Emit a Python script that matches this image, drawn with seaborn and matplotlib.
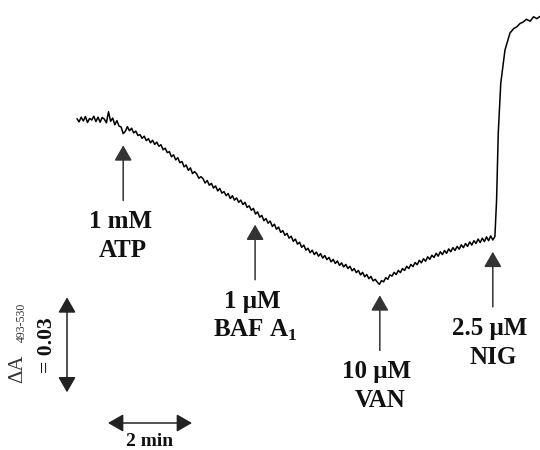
import numpy as np
import pandas as pd
import matplotlib
matplotlib.use("Agg")
import matplotlib.pyplot as plt
import seaborn as sns

# absorbance change (493-530 nm) in mA units, one sample every 0.05 min
trace_mA = [
    0.4, -0.6, 0.9, -0.3, 1.1, -0.8, 0.5, 0.0, 1.2, -0.5,
    0.9, -0.7, 0.8, 0.3, -0.9, 2.6, -0.4, 0.6, -1.5, -0.2,
    -1.9, -2.2, -4.3, -3.6, -2.1, -3.4, -2.6, -4.1, -3.5, -4.9,
    -4.6, -5.8, -5.1, -6.5, -5.9, -7.2, -6.4, -7.7, -7.0, -8.3,
    -7.8, -9.4, -8.9, -10.3, -10.0, -11.6, -11.0, -12.6, -11.9, -13.5,
    -13.1, -14.8, -14.2, -15.9, -15.1, -16.9, -16.3, -17.0, -18.4, -17.9,
    -18.5, -19.9, -19.1, -20.6, -20.0, -21.5, -20.8, -22.4, -21.6, -23.1,
    -22.6, -23.9, -23.2, -24.8, -23.9, -25.3, -24.6, -26.0, -25.3, -26.7,
    -26.0, -27.6, -27.1, -28.5, -27.9, -29.7, -29.0, -30.7, -30.1, -31.8,
    -31.1, -32.6, -31.9, -33.6, -32.9, -34.5, -33.8, -35.5, -34.9, -36.4,
    -35.8, -37.3, -36.7, -38.3, -37.6, -39.2, -38.6, -40.2, -39.5, -41.1,
    -40.5, -41.9, -41.1, -42.5, -41.7, -43.0, -42.2, -43.6, -42.8, -44.1,
    -43.4, -44.8, -44.0, -45.3, -44.5, -45.9, -45.1, -46.4, -45.6, -46.9,
    -46.2, -47.6, -46.9, -48.2, -47.5, -48.9, -48.1, -49.5, -48.8, -50.1,
    -49.4, -50.8, -50.3, -51.2, -51.9, -50.7, -51.1, -49.8, -50.3, -48.9,
    -49.3, -48.1, -48.8, -47.5, -48.2, -46.9, -47.5, -46.2, -46.9, -45.6,
    -46.3, -45.0, -45.7, -44.3, -45.1, -43.8, -44.6, -43.2, -44.0, -42.7,
    -43.4, -42.1, -43.0, -41.6, -42.5, -41.2, -42.1, -40.7, -41.6, -40.3,
    -41.2, -39.9, -40.8, -39.4, -40.3, -39.0, -39.9, -38.5, -39.5, -38.1,
    -39.0, -37.6, -38.7, -37.3, -38.4, -36.9, -38.1, -36.6, -37.9, -36.8,
]
# nigericin step, sampled finer
nig_time = [9.99, 10.03, 10.09, 10.19, 10.31, 10.40, 10.47, 10.55, 10.62,
            10.7, 10.79, 10.87, 10.95, 11.02]
nig_mA = [-25.3, -4.1, 11.7, 22.1, 27.5, 28.9, 29.4, 30.5, 30.9,
          31.8, 31.2, 32.6, 32.0, 32.7]

# additions
add_time = [1.1, 4.24, 7.21, 9.9]
add_dose = ["1 mM", "1 μM", "10 μM", "2.5 μM"]
add_name = ["ATP", r"BAF A$_{\mathregular{1}}$", "VAN", "NIG"]

# scale bars
bar_mA = 30
bar_label = "= 0.03"
bar_min = 2

sns.set_style("white")
plt.rcParams["font.family"] = ["Liberation Serif", "DejaVu Serif"]
plt.rcParams["mathtext.fontset"] = "custom"
plt.rcParams["mathtext.rm"] = "Liberation Serif:bold"

reg_time = np.round(np.arange(len(trace_mA)) * 0.05, 2)
df = pd.DataFrame({
    "time": np.concatenate([reg_time, nig_time]),
    "dA": np.concatenate([trace_mA, nig_mA]),
})

fig = plt.figure(figsize=(5.4, 4.5), dpi=100)
ax = fig.add_axes([0, 0, 1, 1])
sns.lineplot(data=df, x="time", y="dA", color="black", lw=1.1,
             estimator=None, sort=False, ax=ax)

# 42 px per min, 3.167 px per mA
ax.set_xlim(-77 / 42, 463 / 42)
ax.set_ylim(-330 / 3.167, 120 / 3.167)
ax.set_axis_off()

arrow = dict(arrowstyle="-|>,head_length=0.47,head_width=0.27",
             color="#333333", lw=1.1, shrinkA=0, shrinkB=0,
             mutation_scale=20)
txt = dict(ha="center", va="baseline", fontsize=18, fontweight="bold",
           color="#111111", textcoords="offset points")

for t, dose, name in zip(add_time, add_dose, add_name):
    tip = np.interp(t, df["time"], df["dA"]) - 3.7
    tail = tip - 17.4
    ax.annotate("", xy=(t, tip), xytext=(t, tail), arrowprops=arrow)
    ax.annotate(dose, xy=(t, tail), xytext=(-2, -20), **txt)
    ax.annotate(name, xy=(t, tail), xytext=(0, -41), **txt)

# vertical scale bar
x_v = -10 / 42
y_top = -56.0
dbl = dict(arrow, arrowstyle="<|-|>,head_length=0.47,head_width=0.27",
           color="#222222")
ax.annotate("", xy=(x_v, y_top), xytext=(x_v, y_top - bar_mA), arrowprops=dbl)
ax.text(-1.417, -78.5, "ΔA", rotation=90, ha="center", va="center",
        fontsize=15, color="#333333")
ax.text(-1.321, -63.9, "493-530", rotation=90, ha="center", va="center",
        fontsize=8.5, color="#333333")
ax.text(-0.726, -71.0, bar_label, rotation=90, ha="center", va="center",
        fontsize=15.5, fontweight="bold", color="#111111")

# horizontal scale bar
y_h = -303 / 3.167
x_l = 31 / 42
ax.annotate("", xy=(x_l, y_h), xytext=(x_l + bar_min, y_h), arrowprops=dbl)
ax.annotate(f"{bar_min} min", xy=(x_l + bar_min / 2, y_h), xytext=(0, -16.5),
            **dict(txt, fontsize=14))

fig.savefig("out.png", dpi=100, facecolor="white")
